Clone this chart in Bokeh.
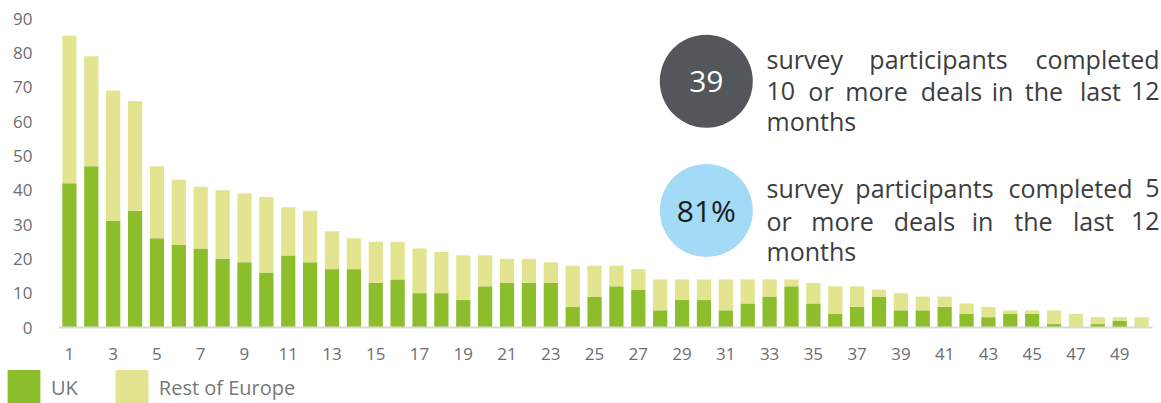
from bokeh.plotting import figure
from bokeh.models import (Range1d, FixedTicker, Legend, LegendItem, Label,
                          ColumnDataSource)
from bokeh.embed import file_html
from bokeh.resources import INLINE

# ---------------- data ----------------
participants = list(range(1, 51))
uk = [42, 47, 31, 34, 26, 24, 23, 20, 19, 16,
      21, 19, 17, 17, 13, 14, 10, 10, 8, 12,
      13, 13, 13, 6, 9, 12, 11, 5, 8, 8,
      5, 7, 9, 12, 7, 4, 6, 9, 5, 5,
      6, 4, 3, 4, 4, 1, 0, 1, 2, 0]
total = [85, 79, 69, 66, 47, 43, 41, 40, 39, 38,
         35, 34, 28, 26, 25, 25, 23, 22, 21, 21,
         20, 20, 19, 18, 18, 18, 17, 14, 14, 14,
         14, 14, 14, 14, 13, 12, 12, 11, 10, 9,
         9, 7, 6, 5, 5, 5, 4, 3, 3, 3]
rest_of_europe = [t - u for t, u in zip(total, uk)]
series_names = ["UK", "Rest of Europe"]
x_tick_values = list(range(1, 50, 2))
y_tick_values = list(range(0, 91, 10))

stat_values = ["39", "81%"]
# each paragraph: lines of (word, anchor-pixel, align) -> justified text
para_lines = [
    [[("survey", 766, "left"), ("participants", 938, "center"), ("completed", 1159, "right")],
     [("10", 766, "left"), ("or", 820.5, "center"), ("more", 876, "center"), ("deals", 951, "center"),
      ("in", 1002, "center"), ("the", 1043.5, "center"), ("last", 1100, "center"), ("12", 1159, "right")],
     [("months", 766, "left")]],
    [[("survey", 766, "left"), ("participants", 924, "center"), ("completed", 1070, "center"), ("5", 1159, "right")],
     [("or", 766, "left"), ("more", 842, "center"), ("deals", 924, "center"), ("in", 982, "center"),
      ("the", 1033, "center"), ("last", 1093, "center"), ("12", 1159, "right")],
     [("months", 766, "left")]],
]
para_baselines = [[58.5, 90.5, 120.5], [187.5, 220, 250.5]]

GREEN = "#8cbd2b"
YELLOW = "#e3e48f"
DARK = "#53565a"
BLUE = "#a3dbf7"
FONT = "Open Sans"

# ---------------- geometry ----------------
W, H = 1161, 403
X0, X1 = 0.5, 50.5          # value span of the bar area
Y0, Y1 = 0, 90
FL, FR, FT, FB = 58, 1152, 18, 327   # where that span sits, in page pixels
sx = (X1 - X0) / (FR - FL)
sy = (Y1 - Y0) / (FB - FT)

def dx(px):
    return X0 + (px - FL) * sx
def dy(py):
    return Y0 + (FB - py) * sy

p = figure(width=W, height=H, output_backend="svg", toolbar_location=None,
           x_range=Range1d(dx(0), dx(W)), y_range=Range1d(dy(H), dy(0)),
           min_border=0)
p.outline_line_color = None
p.grid.visible = False
p.background_fill_color = "white"
p.border_fill_color = "white"

src = ColumnDataSource(dict(x=participants, uk=uk, rest=rest_of_europe))
r_uk, r_rest = p.vbar_stack(["uk", "rest"], x="x", width=0.65,
                            color=[GREEN, YELLOW], line_color=None, source=src)

# axes pinned inside the (full-canvas) frame
xa = p.xaxis[0]
xa.fixed_location = Y0
xa.bounds = (X0, X1)
xa.ticker = FixedTicker(ticks=x_tick_values)
xa.axis_line_color = "#d9d9d9"
xa.axis_line_width = 2
xa.major_tick_line_color = None
xa.minor_tick_line_color = None
xa.major_label_standoff = 14
xa.major_label_text_font = FONT
xa.major_label_text_font_size = "17px"
xa.major_label_text_color = "#6d6e71"

ya = p.yaxis[0]
ya.fixed_location = X0
ya.bounds = (Y0, Y1)
ya.ticker = FixedTicker(ticks=y_tick_values)
ya.axis_line_color = None
ya.major_tick_line_color = None
ya.minor_tick_line_color = None
ya.major_label_standoff = 20
ya.major_label_text_font = FONT
ya.major_label_text_font_size = "17px"
ya.major_label_text_color = "#6d6e71"

# stat circles
circle_y = [dy(80.7), dy(210)]
circle_x = [dx(705.8), dx(705.8)]
p.scatter(x=circle_x, y=circle_y, size=93, marker="circle",
          fill_color=[DARK, BLUE], line_color=None)
for val, cy, col in zip(stat_values, circle_y, ["white", "#1a1a1a"]):
    p.add_layout(Label(x=circle_x[0], y=cy, text=val, text_align="center",
                       text_baseline="middle", text_font=FONT,
                       text_font_size="30px", text_color=col))

# justified paragraphs (word by word)
for lines, bases in zip(para_lines, para_baselines):
    for words, base in zip(lines, bases):
        for word, px, align in words:
            p.add_layout(Label(x=dx(px), y=dy(base), text=word, text_align=align,
                               text_baseline="alphabetic", text_font=FONT,
                               text_font_size="25px", text_color="#3d3d3d"))

legend = Legend(items=[LegendItem(label=series_names[0], renderers=[r_uk]),
                       LegendItem(label=series_names[1], renderers=[r_rest])],
                orientation="horizontal", location=(3, -6),
                padding=0, margin=0, spacing=33,
                glyph_width=41, glyph_height=44, label_standoff=7,
                label_text_font=FONT, label_text_font_size="20px",
                label_text_color="#75787b", border_line_color=None,
                background_fill_alpha=0)
p.add_layout(legend)

open("out.html", "w").write(file_html(p, INLINE))
